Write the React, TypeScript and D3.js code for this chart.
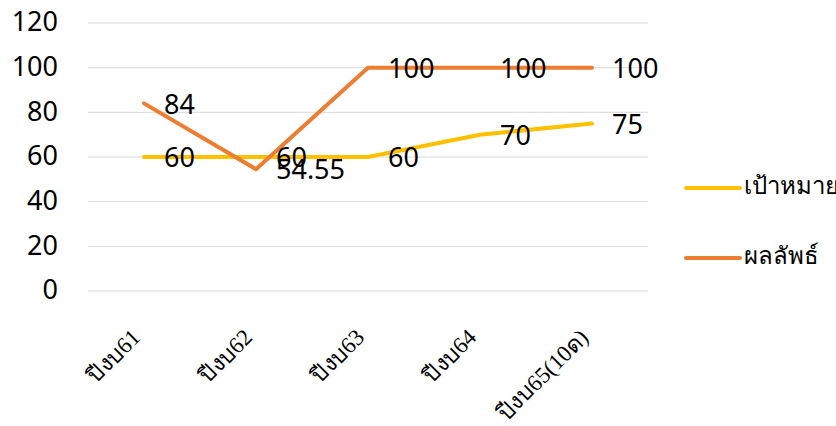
import React from 'react';
import * as d3 from 'd3';

const categories = ['ปีงบ61', 'ปีงบ62', 'ปีงบ63', 'ปีงบ64', 'ปีงบ65(10ด)'];
const targetValues = [60, 60, 60, 70, 75];
const resultValues = [84, 54.55, 100, 100, 100];
const yTicks = [0, 20, 40, 60, 80, 100, 120];

const series = [
    { name: 'เป้าหมาย', values: targetValues, color: '#FFC000' },
    { name: 'ผลลัพธ์', values: resultValues, color: '#ED7D31' },
];

const width = 836;
const height = 426;
const margin = { top: 23, right: 188, bottom: 135, left: 88 };

const numFont = '"Noto Sans", "Open Sans", sans-serif';

const App = () => {
    const x = d3
        .scaleBand()
        .domain(categories)
        .range([margin.left, width - margin.right]);

    const y = d3
        .scaleLinear()
        .domain([0, 120])
        .range([height - margin.bottom, margin.top]);

    const cx = (c) => x(c) + x.bandwidth() / 2;

    const line = d3
        .line()
        .x((d, i) => cx(categories[i]))
        .y((d) => y(d));

    return (
        <svg
            width={width}
            height={height}
            style={{ position: 'absolute', left: 0, top: 0, background: '#fff' }}
        >
            {/* gridlines */}
            {yTicks.map((t) => (
                <line
                    key={t}
                    x1={margin.left}
                    x2={width - margin.right}
                    y1={y(t)}
                    y2={y(t)}
                    stroke="#d9d9d9"
                    strokeWidth={1}
                />
            ))}

            {/* y tick labels */}
            {yTicks.map((t) => (
                <text
                    key={'yl' + t}
                    x={58}
                    y={y(t) + 1}
                    textAnchor="end"
                    dominantBaseline="middle"
                    fontFamily={numFont}
                    fontSize={27}
                    fill="#000"
                >
                    {t}
                </text>
            ))}

            {/* x labels */}
            {categories.map((c) => (
                <text
                    key={c}
                    transform={`translate(${cx(c) - 6}, ${height - margin.bottom + 44}) rotate(-45)`}
                    textAnchor="end"
                    dominantBaseline="middle"
                    fontFamily='"Liberation Serif", serif'
                    fontSize={23}
                    fill="#000"
                >
                    {c}
                </text>
            ))}

            {/* lines */}
            {series.map((s) => (
                <path
                    key={s.name}
                    d={line(s.values)}
                    fill="none"
                    stroke={s.color}
                    strokeWidth={4}
                    strokeLinejoin="round"
                    strokeLinecap="round"
                />
            ))}

            {/* data labels */}
            {series.map((s) =>
                s.values.map((v, i) => (
                    <text
                        key={s.name + i}
                        x={cx(categories[i]) + 20}
                        y={y(v) + 3}
                        dominantBaseline="middle"
                        fontFamily={numFont}
                        fontSize={27}
                        fill="#000"
                    >
                        {v}
                    </text>
                ))
            )}

            {/* legend */}
            {series.map((s, i) => (
                <g key={'lg' + s.name} transform={`translate(686, ${188 + i * 70})`}>
                    <line x1={0} x2={54} y1={0} y2={0} stroke={s.color} strokeWidth={4} strokeLinecap="round" />
                    <text
                        x={58}
                        y={0}
                        dominantBaseline="middle"
                        fontFamily={numFont}
                        fontSize={24}
                        fill="#000"
                    >
                        {s.name}
                    </text>
                </g>
            ))}
        </svg>
    );
};

export default App;
